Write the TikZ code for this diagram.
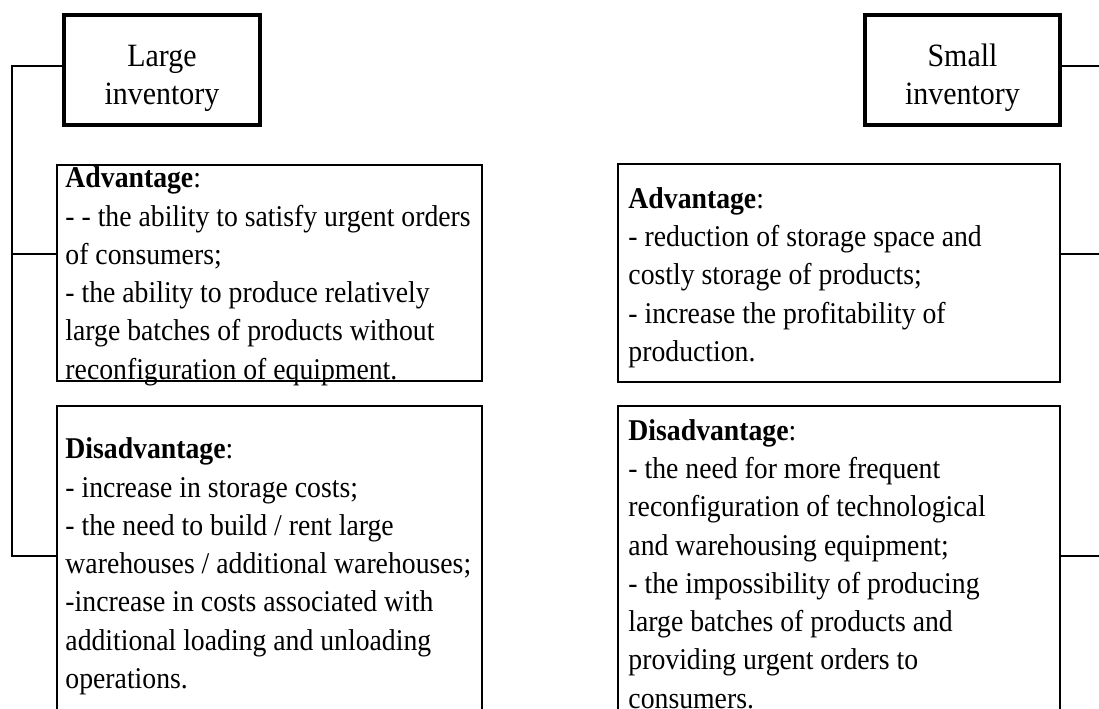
\documentclass[tikz,border=0pt]{standalone}
\usepackage{fontspec}
\setmainfont{Liberation Serif}[FakeStretch=0.92]

\begin{document}
\begin{tikzpicture}[x=0.75pt, y=-0.75pt,
    every node/.style={font=\fontsize{22.6}{28.7}\selectfont},
    head/.style={draw, line width=3pt, minimum width=147pt, minimum height=82.5pt},
    headtxt/.style={align=center, font=\fontsize{24.4}{28.7}\selectfont},
    frame/.style={draw, line width=1.2pt},
    body/.style={align=left, anchor=west, inner ysep=0pt},
    link/.style={line width=1.2pt}]
    \useasboundingbox (0,0) rectangle (1099,709);
    \clip (0,0) rectangle (1099,709);

    % headers
    \node[head] (large) at (162,70) {};
    \node[head, minimum width=146pt] (small) at (962.5,70) {};
    \node[headtxt] (largetxt) at ([yshift=-6pt]large.center) {Large\\inventory};
    \node[headtxt] (smalltxt) at ([yshift=-6pt]small.center) {Small\\inventory};

    % frames
    \node[frame, minimum width=318.75pt, minimum height=162pt] (ladv) at (269.5,273) {};
    \node[frame, minimum width=318.75pt, minimum height=235.5pt] (ldis) at (269.5,563) {};
    \node[frame, minimum width=331.5pt, minimum height=163.5pt] (radv) at (839,273) {};
    \node[frame, minimum width=331.5pt, minimum height=235.5pt] (rdis) at (839,563) {};

    % texts
    \node[body, inner xsep=6.75pt] (ladvtxt) at ([yshift=-2.5pt]ladv.west) {\textbf{Advantage}:\\
      - - the ability to satisfy urgent orders\\
      of consumers;\\
      - the ability to produce relatively\\
      large batches of products without\\
      reconfiguration of equipment.};
    \node[body, inner xsep=6.75pt] (ldistxt) at ([yshift=-2.5pt]ldis.west) {\textbf{Disadvantage}:\\
      - increase in storage costs;\\
      - the need to build / rent large\\
      warehouses / additional warehouses;\\
      -increase in costs associated with\\
      additional loading and unloading\\
      operations.};
    \node[body, inner xsep=8.25pt] (radvtxt) at ([yshift=-3.5pt]radv.west) {\textbf{Advantage}:\\
      - reduction of storage space and\\
      costly storage of products;\\
      - increase the profitability of\\
      production.};
    \node[body, inner xsep=8.25pt] (rdistxt) at ([yshift=-0.8pt]rdis.west) {\textbf{Disadvantage}:\\
      - the need for more frequent\\
      reconfiguration of technological\\
      and warehousing equipment;\\
      - the impossibility of producing\\
      large batches of products and\\
      providing urgent orders to\\
      consumers.};

    % left bus
    \coordinate (ltop) at (12,66);
    \coordinate (lmid) at (12,254);
    \coordinate (lbot) at (12,556);
    \draw[link] (large.west |- ltop) -- (ltop) -- (lbot) -- (ldis.west |- lbot);
    \draw[link] (lmid) -- (ladv.west |- lmid);

    % right bus
    \coordinate (rtop) at (1110,66);
    \coordinate (rmid) at (1110,254);
    \coordinate (rbot) at (1110,556);
    \draw[link] (small.east |- rtop) -- (rtop) -- (rbot) -- (rdis.east |- rbot);
    \draw[link] (radv.east |- rmid) -- (rmid);
\end{tikzpicture}
\end{document}
